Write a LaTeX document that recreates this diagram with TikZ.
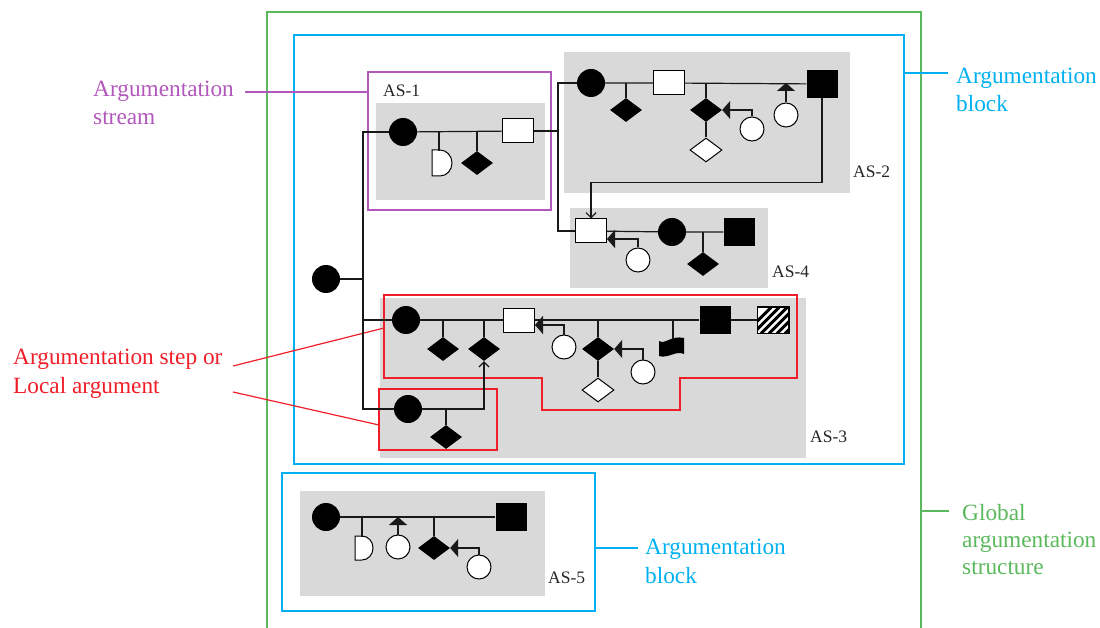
\documentclass[tikz,border=0pt]{standalone}
\usepackage{fontspec}
\setmainfont{Liberation Serif}
\usepackage{tikz}
\usepackage{xcolor}
\usetikzlibrary{calc}
\usetikzlibrary{arrows.meta}
\usetikzlibrary{shapes.geometric}

\definecolor{lanegray}{RGB}{217,217,217}
\definecolor{streamc}{RGB}{178,88,188}
\definecolor{blockc}{RGB}{0,176,240}
\definecolor{globalc}{RGB}{92,184,92}
\definecolor{stepc}{RGB}{240,30,40}
\definecolor{linec}{RGB}{25,25,25}

\begin{document}
\begin{tikzpicture}[x=1pt,y=-1pt,
  fullc/.style={circle,fill=black,minimum size=28pt,inner sep=0pt},
  openc/.style={circle,draw=black,fill=white,line width=1pt,minimum size=24pt,inner sep=0pt},
  openr/.style={rectangle,draw=black,fill=white,line width=1pt,minimum width=31pt,minimum height=24pt,inner sep=0pt},
  fullr/.style={rectangle,fill=black,minimum width=31pt,minimum height=28pt,inner sep=0pt},
  fulld/.style={diamond,fill=black,minimum width=32pt,minimum height=24pt,inner sep=0pt},
  opend/.style={diamond,draw=black,fill=white,line width=1pt,minimum width=32pt,minimum height=24pt,inner sep=0pt},
  astag/.style={font=\fontsize{17.5}{20}\selectfont,anchor=west,inner sep=0pt,text=black!85},
  lbl/.style={font=\fontsize{23.3}{28.5}\selectfont,align=left,anchor=base west,inner sep=0pt},
  blockframe/.style={draw,line width=1.2pt,inner sep=0pt,outer sep=0pt},
  link/.style={draw=linec,line width=1.2pt},
  hit/.style={-{Triangle[length=8pt,width=18pt]}},
  feed/.style={-{Straight Barb[length=5pt,width=10pt]}}
]
\useasboundingbox (0,0) rectangle (1100,628);

\fill[lanegray] (376,103) rectangle (545,200);
\fill[lanegray] (564,52) rectangle (850,193);
\fill[lanegray] (570,208) rectangle (768,288);
\fill[lanegray] (380,298) rectangle (806,458);
\fill[lanegray] (300,491) rectangle (545,596);

\node[blockframe,draw=globalc,minimum width=654pt,minimum height=648pt] (glob) at (594,336) {};
\node[blockframe,draw=blockc,minimum width=610pt,minimum height=429pt] (blk1) at (599,249.5) {};
\node[blockframe,draw=blockc,minimum width=313pt,minimum height=138pt] (blk2) at (438.5,542) {};
\node[blockframe,draw=streamc,minimum width=183pt,minimum height=138pt] (as1) at (459.5,141) {};
\node[blockframe,draw=stepc,minimum width=118pt,minimum height=61pt] (step2) at (438,419.5) {};
\draw[stepc,line width=1.2pt] (384,295) -- (797,295) -- (797,378) -- (680,378) -- (680,410)
  -- (542,410) -- (542,378) -- (384,378) -- cycle;

\node[astag] (t1) at (383,91) {AS-1};
\node[astag] (t2) at (853,172) {AS-2};
\node[astag] (t4) at (772,272) {AS-4};
\node[astag] (t3) at (810,437) {AS-3};
\node[astag] (t5) at (548,578) {AS-5};

\node[lbl,text=streamc] (lstream) at (93,125) {Argumentation\\stream};
\node[lbl,text=blockc] (lblock1) at (956,112) {Argumentation\\block};
\node[lbl,text=stepc] (lstep) at (13,393) {Argumentation step or\\Local argument};
\node[lbl,text=globalc,font=\fontsize{23.3}{27}\selectfont] (lglobal) at (962,574) {Global\\argumentation\\structure};
\node[lbl,text=blockc] (lblock2) at (645,583) {Argumentation\\block};

\coordinate (kstream) at (245,92);
\coordinate (kblock1) at (948,73);
\coordinate (kglobal) at (949,511);
\coordinate (kblock2) at (638,548);
\coordinate (kstep1) at (233,366);
\coordinate (kstep1e) at (384,328);
\coordinate (kstep2) at (233,392);
\coordinate (kstep2e) at (379,425);
\draw[streamc,line width=1.2pt] (kstream) -- (kstream -| as1.west);
\draw[blockc,line width=1.2pt] (kblock1 -| blk1.east) -- (kblock1);
\draw[globalc,line width=1.2pt] (kglobal -| glob.east) -- (kglobal);
\draw[blockc,line width=1.2pt] (kblock2 -| blk2.east) -- (kblock2);
\draw[stepc,line width=1.2pt] (kstep1) -- (kstep1e);
\draw[stepc,line width=1.2pt] (kstep2) -- (kstep2e);

% AS-1
\node[fullc] (c0) at (326,279) {};
\coordinate (spine) at (363,279);
\node[fullc] (c1) at (403,132) {};
\node[fulld] (d1) at (477,163) {};
\node[openr] (r1) at (518,131) {};
\coordinate (dd1) at (439,151);
\draw[fill=white,line width=1pt] (432,150) -- ++(8,0) arc[start angle=-90,end angle=90,x radius=12,y radius=13] -- ++(-8,0) -- cycle;

% AS-2
\node[fullc] (c2) at (591,83) {};
\node[fulld] (d2a) at (626,110) {};
\node[openr] (r2) at (669,83) {};
\node[fulld] (d2b) at (706,110) {};
\node[opend] (e2) at (706,150) {};
\node[openc] (o2a) at (752,129) {};
\node[openc] (o2b) at (786,115) {};
\node[fullr] (s2) at (822,84) {};

% AS-4
\node[openr] (r4) at (591,231) {};
\node[fullc] (c4) at (672,232) {};
\node[fullr] (s4) at (739,232) {};
\node[fulld] (d4) at (703,264) {};
\node[openc] (o4) at (638,260) {};

% AS-3
\node[fullc] (c3) at (406,320) {};
\node[fulld] (d3a) at (443,349) {};
\node[fulld] (d3b) at (484,349) {};
\node[openr] (r3) at (519,320) {};
\node[openc] (o3a) at (564,347) {};
\node[fulld] (d3c) at (598,349) {};
\node[opend] (e3) at (598,390) {};
\node[openc] (o3b) at (643,372) {};
\coordinate (w3) at (673,339);
\fill (659,341) .. controls (665,345) and (671,335) .. (684,338) -- (684,354)
  .. controls (676,350) and (668,359) .. (659,356) -- cycle;
\node[fullr] (s3) at (715,320) {};
\node[openr,minimum height=26pt] (h3) at (773,320) {};
\begin{scope}
\clip (h3.south west) rectangle (h3.north east);
\foreach \k in {0,...,6}
{
	\draw[line width=3pt] ($(h3.south west)+(\k*8-12,0)$) -- ++(26,-26);
}
\end{scope}
\draw[line width=1pt] (h3.south west) rectangle (h3.north east);
\node[fullc] (c3b) at (408,409) {};
\node[fulld] (d3d) at (446,437) {};

% AS-5
\node[fullc] (c5) at (326,517) {};
\coordinate (dd5) at (362,537);
\draw[fill=white,line width=1pt] (355,536) -- ++(7,0) arc[start angle=-90,end angle=90,x radius=11,y radius=12] -- ++(-7,0) -- cycle;
\node[openc] (o5a) at (398,547) {};
\node[fulld] (d5) at (434,548) {};
\node[openc] (o5b) at (479,567) {};
\node[fullr] (s5) at (511,517) {};

% links
\draw[link] (c0) -- (c0 -| spine);
\draw[link] (c1.west) -- (c1.west -| spine) -- (c3b.west -| spine) -- (c3b);
\draw[link] (c3.west -| spine) -- (c3);
\draw[link] (c1) -- (r1);
\draw[link] (dd1) -- (dd1 |- c1);
\draw[link] (d1) -- (d1 |- c1);
\draw[link] (r1.east) -- ++(24,0);
\draw[link] (c2) -| ($(r1.east)+(24,0)$) |- (r4.west);

\draw[link] (c2) -- (r2) -- (s2);
\draw[link] (d2a) -- (d2a |- c2);
\draw[link] (d2b) -- (d2b |- c2);
\draw[link] (d2b) -- (e2);
\draw[link,hit] (o2a) |- (d2b.east);
\draw[link,hit] (o2b) -- (o2b |- c2);
\draw[link,feed] (s2.south) -- ++(0,84) -| (r4.north);

\draw[link] (r4) -- (c4) -- (s4);
\draw[link] (d4) -- (d4 |- c4);
\draw[link,hit] (o4) |- ($(r4.east)+(0,8)$);

\draw[link] (c3) -- (r3) -- (s3) -- (h3);
\draw[link] (d3a) -- (d3a |- c3);
\draw[link] (d3b) -- (d3b |- c3);
\draw[link,hit] (o3a) |- ($(r3.east)+(0,5)$);
\draw[link] (d3c) -- (d3c |- c3);
\draw[link] (d3c) -- (e3);
\draw[link,hit] (o3b) |- (d3c.east);
\draw[link] (w3) -- (w3 |- c3);
\draw[link] (d3d) -- (d3d |- c3b);
\draw[link,feed] (c3b) -| (d3b.south);

\draw[link] (c5) -- (s5);
\draw[link] (dd5) -- (dd5 |- c5);
\draw[link,hit] (o5a) -- (o5a |- c5);
\draw[link] (d5) -- (d5 |- c5);
\draw[link,hit] (o5b) |- (d5.east);
\end{tikzpicture}
\end{document}
